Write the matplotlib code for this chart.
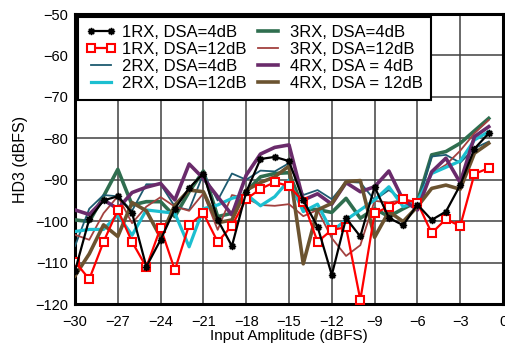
import matplotlib
matplotlib.use("Agg")
import matplotlib.pyplot as plt
import numpy as np

plt.rcParams['font.family'] = ['Liberation Sans', 'DejaVu Sans']

# Input amplitude sweep (dBFS)
input_amplitude = list(range(-30, 0))

rx1_dsa4 = [-112, -99.5, -95, -94, -98, -111, -104.5, -97, -92, -88.5,
            -99.7, -106, -93, -85, -84.5, -85.5, -95, -101.3, -113, -99.3,
            -103.7, -91.7, -99.2, -101, -96, -99.7, -97.7, -91.3, -82.5, -78.8]
rx1_dsa12 = [-109.8, -114, -105, -97.3, -105, -111.1, -101.6, -111.8, -100.9, -98.1,
             -105, -101.1, -94.7, -92.2, -90.6, -91.5, -95.3, -105, -102.1, -101.5,
             -119, -98.1, -96.5, -94.7, -95.5, -102.9, -99.5, -101.2, -88.6, -87.2]
rx2_dsa4 = [-106, -97, -93.7, -94, -97.5, -91.1, -91.1, -96.5, -97.3, -88.5,
            -95, -88.5, -90, -87.8, -88, -86, -93.7, -92.5, -94.7, -90.5,
            -90.7, -94.9, -92.5, -94.9, -96.1, -84.4, -84, -85.9, -82.4, -80.8]
rx2_dsa12 = [-102.5, -102, -102, -98.5, -103.4, -97.3, -97.7, -98.1, -106.2, -97,
             -96.1, -94.5, -93.5, -96.3, -94.1, -90.1, -97.7, -95.9, -102.5, -99.7,
             -97.3, -94.9, -91.7, -96.5, -95.3, -88.5, -87, -85.5, -80.4, -78.4]
rx3_dsa4 = [-99.7, -100.1, -94, -87.5, -96.1, -95.3, -95.3, -98.9, -92.9, -87.9,
            -98.9, -98.1, -92.9, -89.3, -88.5, -88.3, -97, -97.2, -97.9, -94.5,
            -99.3, -97, -98.9, -97, -95.3, -84, -83.2, -81.2, -78.2, -75.2]
rx3_dsa12 = [-103.3, -104.5, -98.1, -94, -100.5, -96.5, -94.2, -96.5, -97.5, -93.3,
             -102.1, -93.7, -94.5, -96.1, -96.3, -95.9, -98.8, -97.3, -104.1, -108.4,
             -105.8, -95.1, -95.5, -94.9, -95.9, -88.5, -86.4, -83, -78.8, -75.6]
rx4_dsa4 = [-97.3, -98.4, -94.9, -97, -93.1, -91.8, -90.9, -94.9, -86.2, -89.7,
            -94.1, -98.5, -88.9, -83.8, -82.2, -81.6, -94.9, -93.4, -95.9, -90.7,
            -92.9, -91.7, -87.9, -94.9, -97.3, -88.1, -84.8, -90.7, -79.6, -77.2]
rx4_dsa12 = [-113.2, -107.9, -100.9, -103.7, -95.5, -97.5, -103.9, -96.1, -92.5, -92.9,
             -100.4, -99.7, -92.5, -90.7, -89.3, -86.7, -110.3, -97.3, -95.7, -90.5,
             -90.2, -103.9, -97.7, -100.1, -96.5, -92.1, -91.3, -92.3, -83.6, -81.2]

series_labels = ["1RX, DSA=4dB", "1RX, DSA=12dB", "2RX, DSA=4dB", "2RX, DSA=12dB",
                 "3RX, DSA=4dB", "3RX, DSA=12dB", "4RX, DSA = 4dB", "4RX, DSA = 12dB"]
x_ticks = [-30, -27, -24, -21, -18, -15, -12, -9, -6, -3, 0]
y_ticks = [-120, -110, -100, -90, -80, -70, -60, -50]

fig = plt.figure(figsize=(5.05, 3.5), dpi=100)
ax = fig.add_axes([75 / 505, 46 / 350, 428 / 505, 290 / 350])

styles = [
    dict(color='black', lw=1.6, marker=(8, 1, 0), ms=5, mfc='black', mec='black', zorder=9),
    dict(color='#ff0000', lw=1.6, marker='s', ms=5.2, mfc='white', mec='#ff0000', mew=1.5, zorder=8),
    dict(color='#1d5b70', lw=1.3, zorder=4),
    dict(color='#1cbfd0', lw=2.3, zorder=5),
    dict(color='#2f6e4f', lw=2.6, zorder=3),
    dict(color='#a3413f', lw=1.3, zorder=4),
    dict(color='#6a2b6b', lw=2.6, zorder=6),
    dict(color='#6b5330', lw=2.6, zorder=7),
]
all_series = [rx1_dsa4, rx1_dsa12, rx2_dsa4, rx2_dsa12,
              rx3_dsa4, rx3_dsa12, rx4_dsa4, rx4_dsa12]

for vals, lab, st in zip(all_series, series_labels, styles):
    ax.plot(input_amplitude, vals, label=lab, **st)

ax.set_xlim(-30, 0)
ax.set_ylim(-120, -50)
ax.set_xticks(x_ticks)
ax.set_yticks(y_ticks)
ax.tick_params(axis='both', length=0, labelsize=10.5, colors='black')
ax.tick_params(axis='x', pad=8)
ax.tick_params(axis='y', pad=5)
ax.grid(True, color='#404040', lw=1.1)
ax.set_axisbelow(True)
for side in ax.spines.values():
    side.set_linewidth(2.2)
    side.set_color('black')

ax.set_xlabel("Input Amplitude (dBFS)", fontsize=11, labelpad=0)
ax.set_ylabel("HD3 (dBFS)", fontsize=11.5, labelpad=5)

leg = ax.legend(ncol=2, loc='upper left', bbox_to_anchor=(0.0, 1.0), fontsize=12,
                frameon=True, fancybox=False, edgecolor='black', framealpha=1,
                handlelength=1.8, numpoints=2, columnspacing=0.35, handletextpad=0.4,
                labelspacing=0.13, borderpad=0.5, borderaxespad=0.15)
leg.get_frame().set_linewidth(1.5)
leg.set_zorder(20)

fig.savefig("out.png", dpi=100)
